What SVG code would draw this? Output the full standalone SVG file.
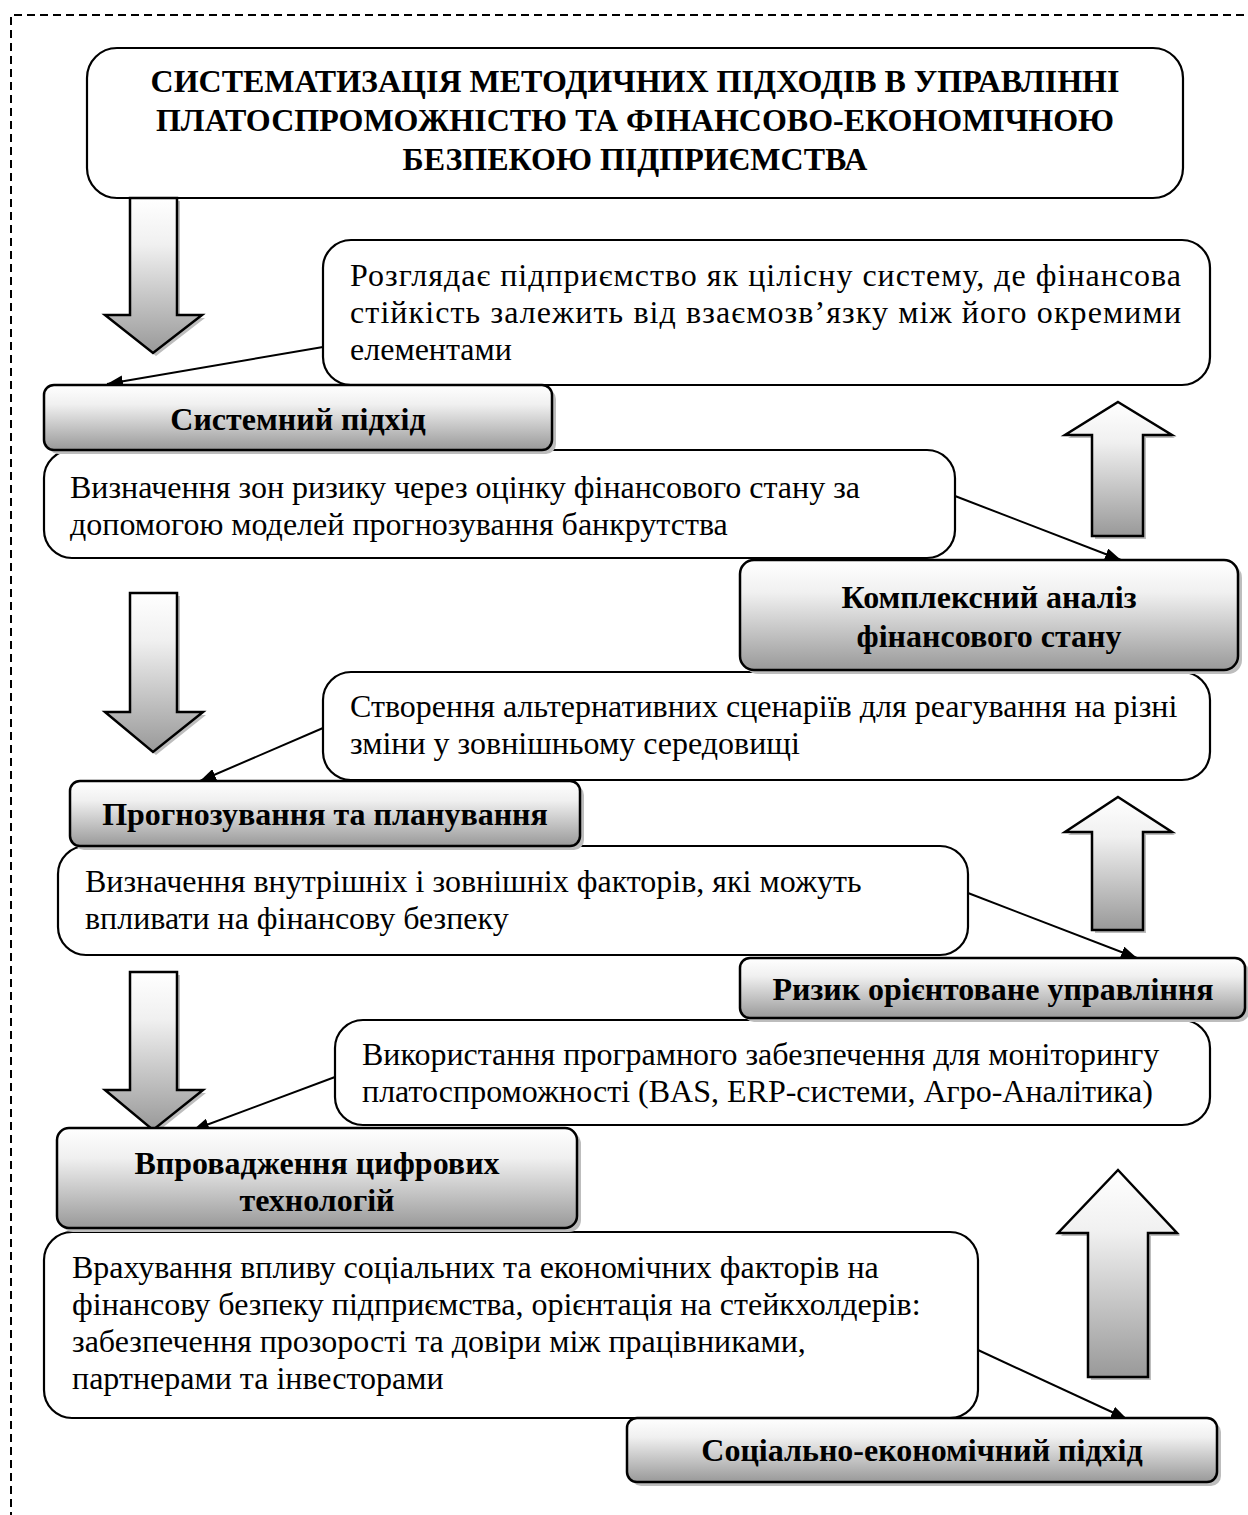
<svg xmlns="http://www.w3.org/2000/svg" width="1248" height="1515" viewBox="0 0 1248 1515">
<style>
.frame{fill:none;stroke:#000;stroke-width:2;stroke-dasharray:8 5}
.tbox{fill:#fff;stroke:#000;stroke-width:2.2}
.gbox{fill:url(#g);stroke:#000;stroke-width:2.5}
.shadow{fill:#bdbdbd}
.arrow{fill:url(#g);stroke:#000;stroke-width:2.5;stroke-linejoin:miter}
.conn{stroke:#000;stroke-width:2;fill:none;marker-end:url(#ah)}
.t{font-family:"Liberation Serif","Times New Roman",serif;font-size:32px;fill:#000}
.b{font-family:"Liberation Serif","Times New Roman",serif;font-size:32px;font-weight:bold;fill:#000;text-anchor:middle}
</style>
<defs>
<linearGradient id="g" x1="0" y1="0" x2="0" y2="1">
<stop offset="0" stop-color="#ffffff"/>
<stop offset="0.3" stop-color="#f0f0f0"/>
<stop offset="1" stop-color="#999999"/>
</linearGradient>
<marker id="ah" markerWidth="16" markerHeight="12" refX="16" refY="6" orient="auto" markerUnits="userSpaceOnUse">
<path d="M0,0 L16,6 L0,12 Z" fill="#000"/>
</marker>
</defs>
<path class="frame" d="M11,1520 V15 H1260"/>

<g id="header">
<rect class="tbox" x="87" y="48" width="1096" height="150" rx="30"/>
<text class="b" x="635" y="92" font-size="33.4">СИСТЕМАТИЗАЦІЯ МЕТОДИЧНИХ ПІДХОДІВ В УПРАВЛІННІ</text>
<text class="b" x="635" y="131" font-size="33.4">ПЛАТОСПРОМОЖНІСТЮ ТА ФІНАНСОВО-ЕКОНОМІЧНОЮ</text>
<text class="b" x="635" y="170" font-size="33.4">БЕЗПЕКОЮ ПІДПРИЄМСТВА</text>
</g>

<g id="arrow-down-1">
<path class="shadow" d="M133,201 H180 V318 H205 L156,356 L108,318 H133 Z"/>
<path class="arrow" d="M130,198 H177 V315 H202 L153,353 L105,315 H130 Z"/>
</g>
<g id="arrow-down-2">
<path class="shadow" d="M133,596 H180 V715 H206 L156,755 L108,715 H133 Z"/>
<path class="arrow" d="M130,593 H177 V712 H203 L153,752 L105,712 H130 Z"/>
</g>
<g id="arrow-down-3">
<path class="shadow" d="M133,975 H180 V1093 H206 L156,1133 L108,1093 H133 Z"/>
<path class="arrow" d="M130,972 H177 V1090 H203 L153,1130 L105,1090 H130 Z"/>
</g>
<g id="arrow-up-1">
<path class="shadow" d="M1121,405 L1175,438 H1146 V539 H1095 V438 H1068 Z"/>
<path class="arrow" d="M1118,402 L1172,435 H1143 V536 H1092 V435 H1065 Z"/>
</g>
<g id="arrow-up-2">
<path class="shadow" d="M1121,800 L1175,835 H1146 V933 H1095 V835 H1068 Z"/>
<path class="arrow" d="M1118,797 L1172,832 H1143 V930 H1092 V832 H1065 Z"/>
</g>
<g id="arrow-up-3">
<path class="shadow" d="M1121,1173 L1180,1236 H1151 V1380 H1091 V1236 H1061 Z"/>
<path class="arrow" d="M1118,1170 L1177,1233 H1148 V1377 H1088 V1233 H1058 Z"/>
</g>

<g id="desc-1">
<rect class="tbox" x="323" y="240" width="887" height="145" rx="28"/>
<text class="t" x="350" y="286" textLength="831" lengthAdjust="spacing">Розглядає підприємство як цілісну систему, де фінансова</text>
<text class="t" x="350" y="323" textLength="831" lengthAdjust="spacing">стійкість залежить від взаємозв’язку між його окремими</text>
<text class="t" x="350" y="360">елементами</text>
</g>
<g id="desc-2">
<rect class="tbox" x="44" y="450" width="911" height="108" rx="28"/>
<text class="t" x="70" y="498">Визначення зон ризику через оцінку фінансового стану за</text>
<text class="t" x="70" y="535">допомогою моделей прогнозування банкрутства</text>
</g>
<g id="desc-3">
<rect class="tbox" x="323" y="672" width="887" height="108" rx="28"/>
<text class="t" x="350" y="717">Створення альтернативних сценаріїв для реагування на різні</text>
<text class="t" x="350" y="754">зміни у зовнішньому середовищі</text>
</g>
<g id="desc-4">
<rect class="tbox" x="58" y="846" width="910" height="109" rx="28"/>
<text class="t" x="85" y="892">Визначення внутрішніх і зовнішніх факторів, які можуть</text>
<text class="t" x="85" y="929">впливати на фінансову безпеку</text>
</g>
<g id="desc-5">
<rect class="tbox" x="335" y="1020" width="875" height="105" rx="28"/>
<text class="t" x="362" y="1065">Використання програмного забезпечення для моніторингу</text>
<text class="t" x="362" y="1102">платоспроможності (BAS, ERP-системи, Агро-Аналітика)</text>
</g>
<g id="desc-6">
<rect class="tbox" x="44" y="1232" width="934" height="186" rx="28"/>
<text class="t" x="72" y="1278">Врахування впливу соціальних та економічних факторів на</text>
<text class="t" x="72" y="1315">фінансову безпеку підприємства, орієнтація на стейкхолдерів:</text>
<text class="t" x="72" y="1352">забезпечення прозорості та довіри між працівниками,</text>
<text class="t" x="72" y="1389">партнерами та інвесторами</text>
</g>

<g id="connectors">
<line class="conn" x1="323" y1="347" x2="107" y2="384"/>
<line class="conn" x1="955" y1="496" x2="1121" y2="560"/>
<line class="conn" x1="323" y1="728" x2="200" y2="781"/>
<line class="conn" x1="968" y1="893" x2="1137" y2="958"/>
<line class="conn" x1="335" y1="1077" x2="193" y2="1130"/>
<line class="conn" x1="978" y1="1350" x2="1127" y2="1419"/>
</g>

<g id="approach-system">
<rect class="shadow" x="48" y="389" width="508" height="65" rx="10"/>
<rect class="gbox" x="44" y="385" width="508" height="65" rx="10"/>
<text class="b" x="298" y="430">Системний підхід</text>
</g>
<g id="approach-analysis">
<rect class="shadow" x="744" y="564" width="498" height="110" rx="14"/>
<rect class="gbox" x="740" y="560" width="498" height="110" rx="14"/>
<text class="b" x="989" y="608">Комплексний аналіз</text>
<text class="b" x="989" y="647">фінансового стану</text>
</g>
<g id="approach-forecast">
<rect class="shadow" x="74" y="785" width="510" height="65" rx="10"/>
<rect class="gbox" x="70" y="781" width="510" height="65" rx="10"/>
<text class="b" x="325" y="825">Прогнозування та планування</text>
</g>
<g id="approach-risk">
<rect class="shadow" x="744" y="962" width="505" height="60" rx="10"/>
<rect class="gbox" x="740" y="958" width="505" height="60" rx="10"/>
<text class="b" x="993" y="1000">Ризик орієнтоване управління</text>
</g>
<g id="approach-digital">
<rect class="shadow" x="61" y="1132" width="520" height="100" rx="12"/>
<rect class="gbox" x="57" y="1128" width="520" height="100" rx="12"/>
<text class="b" x="317" y="1174">Впровадження цифрових</text>
<text class="b" x="317" y="1211">технологій</text>
</g>
<g id="approach-social">
<rect class="shadow" x="631" y="1422" width="590" height="64" rx="10"/>
<rect class="gbox" x="627" y="1418" width="590" height="64" rx="10"/>
<text class="b" x="922" y="1461">Соціально-економічний підхід</text>
</g>
</svg>
